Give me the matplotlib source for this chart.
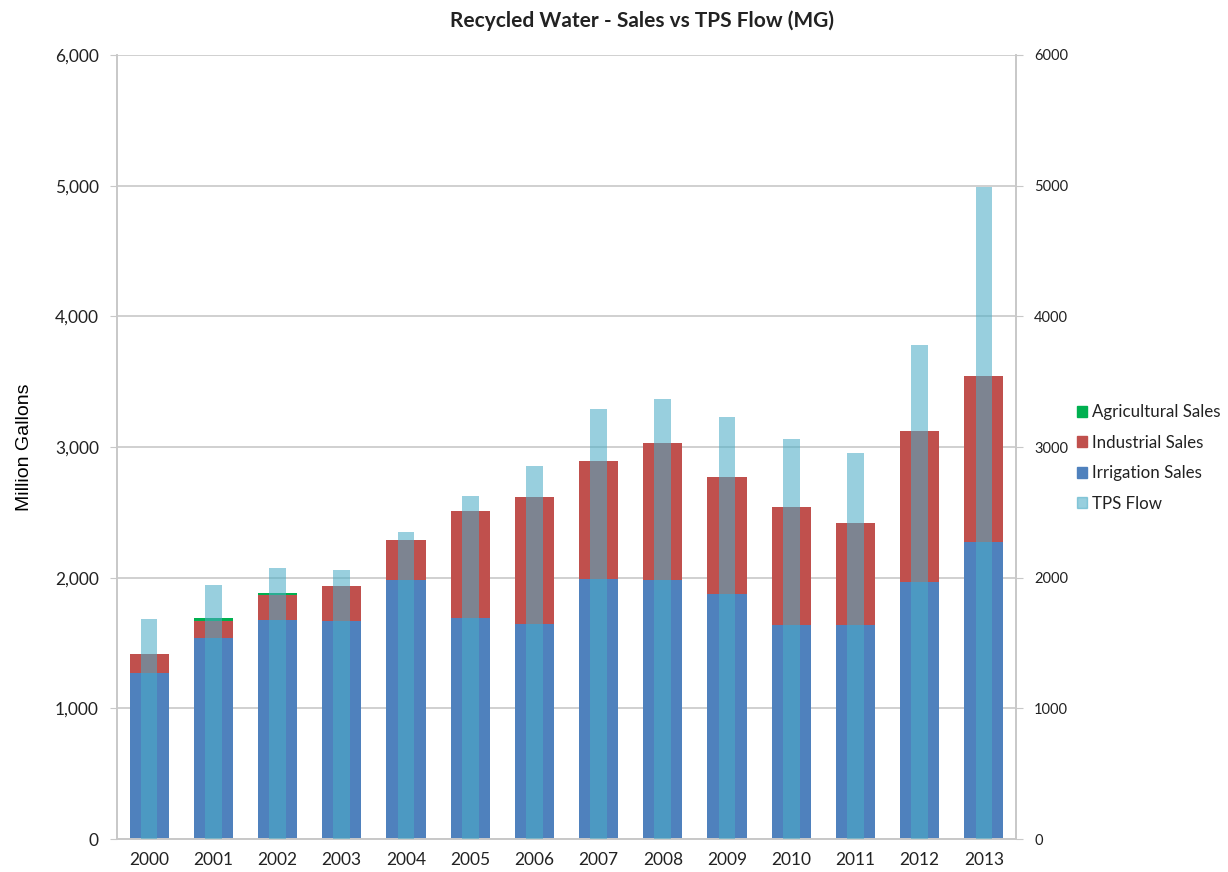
import matplotlib
matplotlib.use("Agg")
import matplotlib.pyplot as plt
from matplotlib.ticker import FuncFormatter, MultipleLocator
from matplotlib.patches import Patch
import numpy as np

years = ["2000", "2001", "2002", "2003", "2004", "2005", "2006",
         "2007", "2008", "2009", "2010", "2011", "2012", "2013"]
irrigation = [1268, 1541, 1676, 1668, 1982, 1688, 1643,
              1990, 1982, 1875, 1638, 1638, 1968, 2275]
industrial = [145, 127, 191, 265, 306, 825, 972,
              905, 1046, 893, 900, 778, 1157, 1266]
agricultural = [0, 20, 18, 0, 0, 0, 0, 0, 0, 0, 0, 0, 0, 0]
tps_flow = [1681, 1946, 2074, 2059, 2346, 2623, 2852,
            3288, 3365, 3227, 3058, 2957, 3781, 4992]

c_irr = "#4F81BD"
c_ind = "#C0504D"
c_agr = "#00B050"
c_tps = "#4BACC6"
grid_c = "#C8C8C8"

plt.rcParams["font.family"] = ["Lato", "DejaVu Sans"]

fig = plt.figure(figsize=(12.28, 8.72), dpi=100)
ax = fig.add_axes([117/1228, 1-839/872, (1016-117)/1228, (839-55)/872])

x = np.arange(len(years))
w = 0.61
irr = np.array(irrigation)
ind = np.array(industrial)
agr = np.array(agricultural)
ax.bar(x, irr, w, color=c_irr, zorder=2)
ax.bar(x, ind, w, bottom=irr, color=c_ind, zorder=2)
ax.bar(x, agr, w, bottom=irr + ind, color=c_agr, zorder=2)

ax.set_xlim(-0.5, len(years) - 0.5)
ax.set_ylim(0, 6000)
ax.yaxis.set_major_locator(MultipleLocator(1000))
ax.yaxis.set_major_formatter(FuncFormatter(lambda v, p: f"{int(v):,}"))
ax.set_xticks(x)
ax.set_xticklabels(years)
ax.grid(axis="y", color=grid_c, linewidth=1.2, zorder=0)
ax.set_axisbelow(True)
ax.spines["top"].set_visible(False)
for s in ["left", "bottom", "right"]:
    ax.spines[s].set_color(grid_c)
    ax.spines[s].set_linewidth(1.2)
ax.tick_params(axis="y", length=5, color=grid_c, labelsize=12.5, pad=8, labelcolor="#222222")
ax.tick_params(axis="x", length=0, labelsize=12.5, pad=9, labelcolor="#222222")
ax.set_ylabel("Million Gallons", fontsize=14, labelpad=16, family=["Liberation Sans", "DejaVu Sans"])

ax2 = ax.twinx()
ax2.bar(x, tps_flow, 0.26, color=c_tps, alpha=0.57, zorder=3)
ax2.set_ylim(0, 6000)
ax2.yaxis.set_major_locator(MultipleLocator(1000))
ax2.yaxis.set_major_formatter(FuncFormatter(lambda v, p: f"{int(v)}"))
ax2.spines["top"].set_visible(False)
for s in ["left", "bottom", "right"]:
    ax2.spines[s].set_color(grid_c)
    ax2.spines[s].set_linewidth(1.2)
ax2.tick_params(axis="y", length=5, color=grid_c, labelsize=10.5, pad=8, labelcolor="#222222")

fig.text(642/1228, 1-21/872, "Recycled Water - Sales vs TPS Flow (MG)", ha="center", va="center",
         fontsize=15, fontweight="bold", color="#222222")

handles = [Patch(color=c_agr), Patch(color=c_ind), Patch(color=c_irr),
           Patch(color=c_tps, alpha=0.57)]
labels = ["Agricultural Sales", "Industrial Sales", "Irrigation Sales", "TPS Flow"]
fig.legend(handles, labels, loc="center left", bbox_to_anchor=(1062/1228, 1-458/872),
           frameon=False, fontsize=12.2, handlelength=0.6, handleheight=0.6,
           handletextpad=0.3, labelspacing=0.85, labelcolor="#222222")

fig.savefig("out.png", dpi=100)
